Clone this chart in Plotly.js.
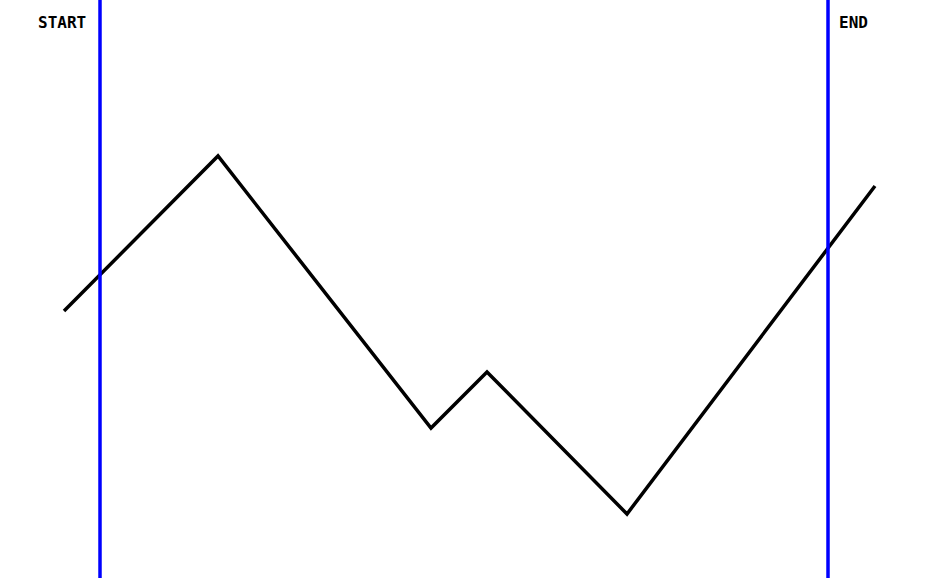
<!DOCTYPE html>
<html>
    <head>
        <script src="https://cdn.plot.ly/plotly-3.0.1.min.js"></script>
        <style>body{margin:0;} #plot{width:928px;height:578px;}</style>
    </head>
    <body>
        <div id="plot"></div>
        <script type="text/javascript">
            // path points, in screen-like units (y measured downward)
            var pathX = [64, 218, 431, 487, 627, 875];
            var pathY = [311, 156, 428, 372, 514, 186];
            var markerX = [100, 828];
            var markerLabels = ['START', 'END'];

            var traces = [{
                x: pathX, y: pathY, mode: 'lines',
                line: {color: 'black', width: 3.5}, hoverinfo: 'skip'
            }];

            var shapes = markerX.map(function(v) {
                return {type: 'line', xref: 'x', yref: 'paper', x0: v, x1: v, y0: 0, y1: 1,
                        line: {color: '#0000ff', width: 3.5}};
            });

            var annotations = markerX.map(function(v, i) {
                return {x: i === 0 ? v - 12 : v + 9, y: 22, xref: 'x', yref: 'y',
                        text: markerLabels[i], showarrow: false,
                        xanchor: i === 0 ? 'right' : 'left', yanchor: 'middle',
                        font: {family: 'DejaVu Sans Mono', size: 16, color: 'black', weight: 'bold'}};
            });

            Plotly.newPlot('plot', traces, {
                width: 928, height: 578,
                margin: {l: 0, r: 0, t: 0, b: 0},
                paper_bgcolor: 'white', plot_bgcolor: 'white',
                showlegend: false,
                xaxis: {range: [0, 928], visible: false, fixedrange: true},
                yaxis: {range: [578, 0], visible: false, fixedrange: true},
                shapes: shapes,
                annotations: annotations
            }, {staticPlot: true});
        </script>
    </body>
</html>
